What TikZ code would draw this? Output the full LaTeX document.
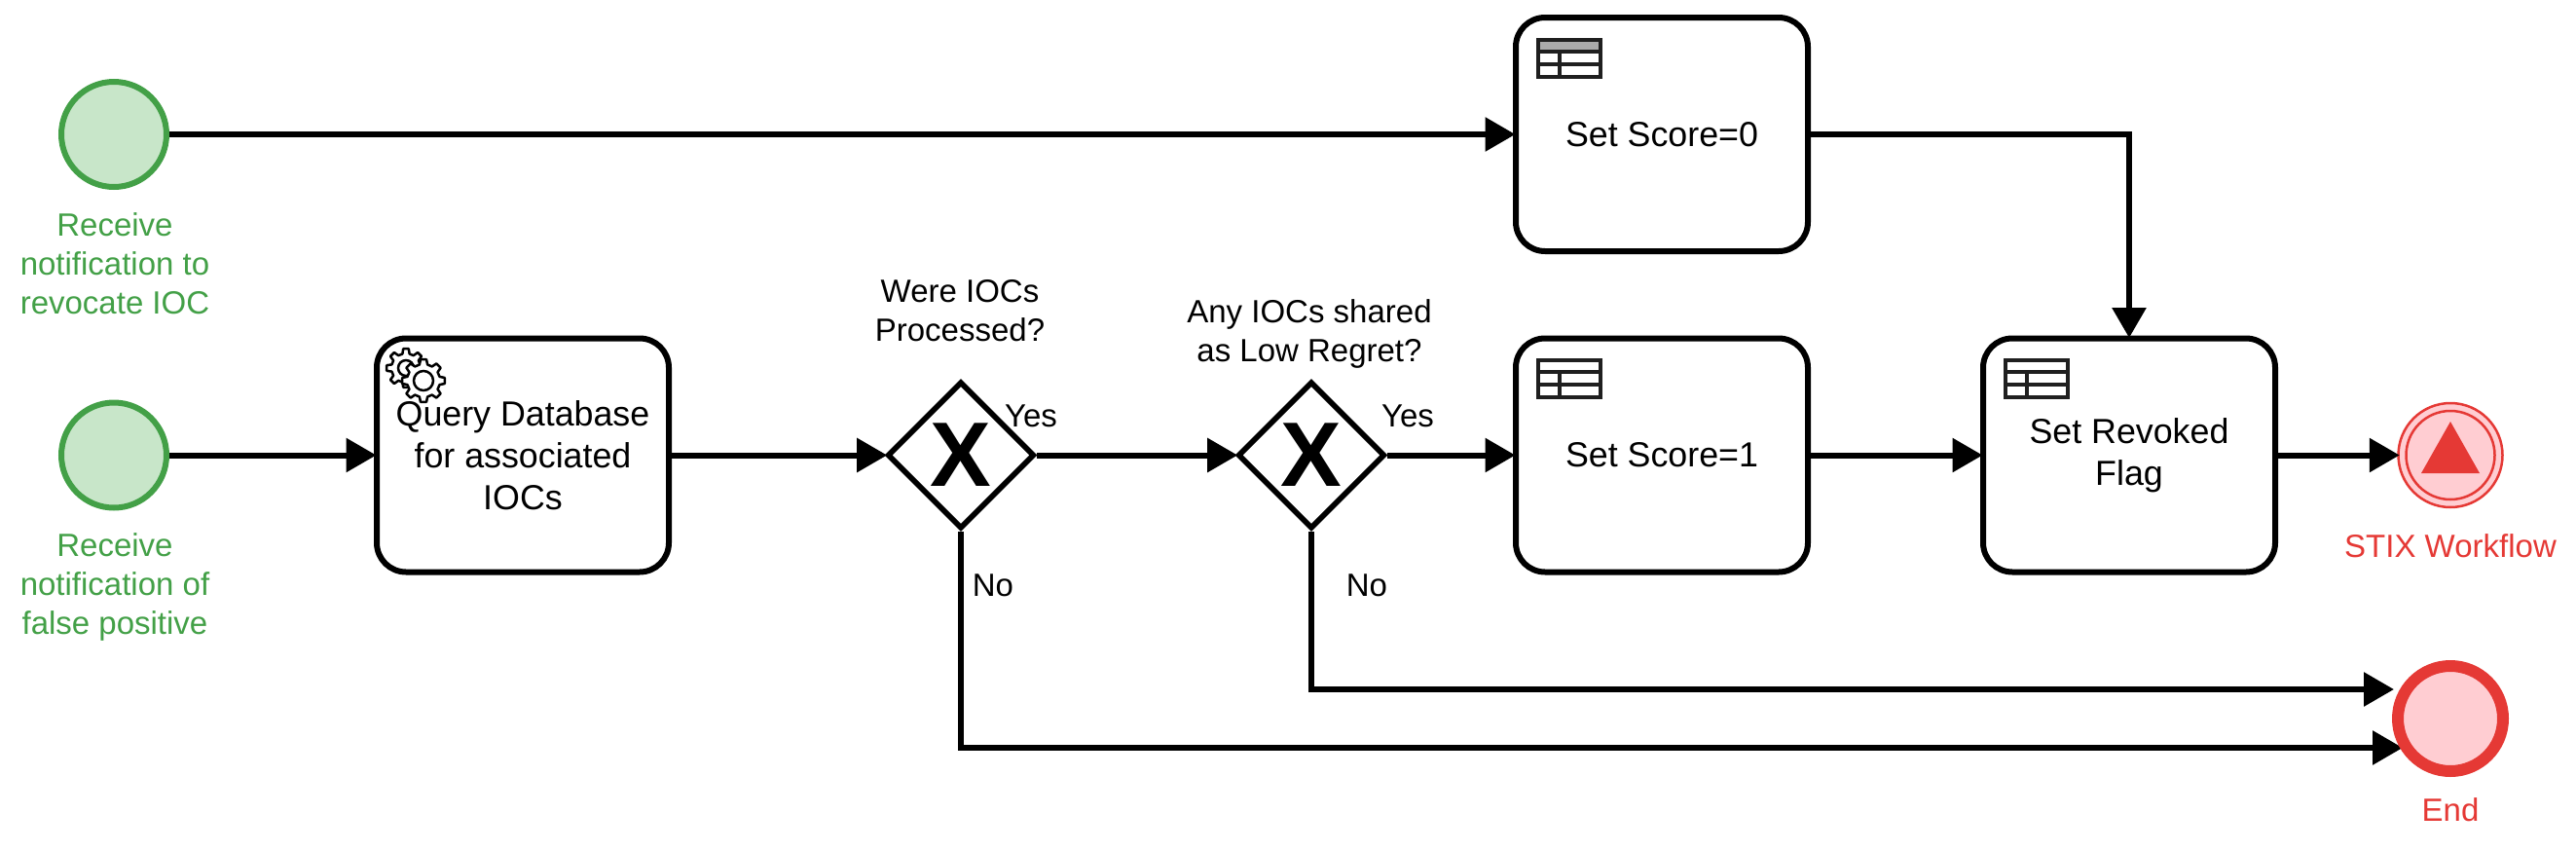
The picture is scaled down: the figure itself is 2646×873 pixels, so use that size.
\documentclass[tikz,border=0pt]{standalone}
\usepackage{fontspec}
\setmainfont{Liberation Sans}
\usetikzlibrary{arrows.meta,shapes.geometric,calc}
\definecolor{grn}{HTML}{43A047}
\definecolor{grnf}{HTML}{C8E6C9}
\definecolor{rd}{HTML}{E53935}
\definecolor{rdf}{HTML}{FFCDD2}
\tikzset{
  flow/.style={line width=3pt,shorten >=-1.25pt,-{Triangle[length=15.5pt,width=17pt]}},
  taskbox/.style={draw=black,line width=3pt,fill=white,rounded corners=15pt,minimum width=150pt,minimum height=120pt,inner sep=0pt,align=center,font=\fontsize{17.9}{21.5}\selectfont},
  gatebox/.style={diamond,draw=black,line width=2.8pt,fill=white,minimum width=75.5pt,minimum height=75.5pt,inner sep=0pt,aspect=1,font=\fontsize{47}{47}\selectfont\bfseries},
  startev/.style={circle,draw=grn,fill=grnf,line width=3pt,minimum size=54pt,inner sep=0pt},
  endev/.style={circle,draw=rd,fill=rdf,line width=6pt,minimum size=54pt,inner sep=0pt},
  lab/.style={align=center,inner sep=0pt,font=\fontsize{16.5}{20}\selectfont},
  iconln/.style={draw=black!88,line width=1.6pt},
}
\newcommand{\gearicon}[5]{%
  \begin{scope}[shift={(#1,#2)}]
    \draw[line width=1.25pt,fill=white,line join=round]
      (-14:#3) \foreach \a in {0,45,...,315}{
        -- (\a-14:#3) -- (\a-8:#3+#4) -- (\a+8:#3+#4) -- (\a+14:#3) -- (\a+31:#3)
      } -- cycle;
    \draw[line width=1.25pt,fill=white] (0,0) circle[radius=#5];
  \end{scope}}
\newcommand{\tableicon}[3]{%
  \begin{scope}[shift={(#1,#2)}]
    \fill[#3] (0,0) rectangle (64,12);
    \draw[iconln] (0,0) rectangle (64,38);
    \draw[iconln] (0,12) -- (64,12) (0,25) -- (64,25) (22,12) -- (22,38);
  \end{scope}}
\begin{document}
\begin{tikzpicture}[x=0.5pt,y=-0.5pt]
\useasboundingbox (0,0) rectangle (2646,873);

\node[startev] (s1) at (117,138) {};
\node[startev] (s2) at (117,467.5) {};
\node[lab,text=grn] (s1l) at (118,271) {Receive\\notification to\\revocate IOC};
\node[lab,text=grn] (s2l) at (118,603) {Receive\\notification of\\false positive};

\node[taskbox] (q) at (537,467.5) {Query Database\\for associated\\IOCs};
\node[gatebox] (g1) at (987,467.5) {X};
\node[gatebox] (g2) at (1347,467.5) {X};
\node[taskbox] (t0) at (1707,138) {Set Score=0};
\node[taskbox] (t1) at (1707,467.5) {Set Score=1};
\node[taskbox] (r) at (2187,467.5) {Set Revoked\\Flag};

\node[lab] (g1l) at (986,319.5) {Were IOCs\\Processed?};
\node[lab] (g2l) at (1345,343) {Any IOCs shared\\as Low Regret?};
\node[lab] (y1) at (1059,427) {Yes};
\node[lab] (y2) at (1446,427) {Yes};
\node[lab] (n1) at (1020,601) {No};
\node[lab] (n2) at (1404,601) {No};

\gearicon{417}{378}{15}{5}{8}
\gearicon{435}{391}{17}{5}{10}
\tableicon{1580}{41}{black!33}
\tableicon{1580}{370}{white}
\tableicon{2060}{370}{white}

\coordinate (e1) at (2456.5,708);
\coordinate (e2) at (2465.5,768);
\draw[flow] (s1) -- (t0);
\draw[flow] (s2) -- (q);
\draw[flow] (q) -- (g1);
\draw[flow] (g1) -- (g2);
\draw[flow] (g2) -- (t1);
\draw[flow] (t1) -- (r);
\draw[flow] (t0) -| (r);
\draw[flow] (g2) |- (e1);
\draw[flow] (g1) |- (e2);

\node[endev] (endn) at (2517,738) {};
\node[lab,text=rd] (endl) at (2517,832) {End};

\node[circle,draw=rd,fill=rdf,line width=1.25pt,minimum size=53.5pt,inner sep=0pt] (st) at (2517,467.5) {};
\node[circle,draw=rd,line width=1.25pt,minimum size=45.5pt,inner sep=0pt] (sti) at (st.center) {};
\fill[rd] (2517,433) -- (2547,486) -- (2487,486) -- cycle;
\node[lab,text=rd] (stl) at (2517,561) {STIX Workflow};
\draw[flow] (r) -- (st);
\end{tikzpicture}
\end{document}
